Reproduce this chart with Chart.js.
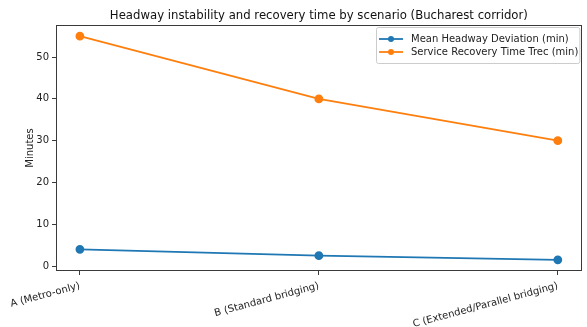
<!DOCTYPE html>
<html>
<head>
<meta charset="utf-8">
<script src="https://cdn.jsdelivr.net/npm/chart.js@4.4.1/dist/chart.umd.min.js"></script>
<style>
  html, body { margin: 0; padding: 0; background: #ffffff; }
  #wrap { width: 587px; height: 327px; }
</style>
</head>
<body>
<div id="wrap"><canvas id="c" width="587" height="327"></canvas></div>
<script>
const categories = ["A (Metro-only)", "B (Standard bridging)", "C (Extended/Parallel bridging)"];
const headwayDeviation = [4.0, 2.5, 1.5];
const recoveryTime = [55, 40, 30];
const yTicks = [0, 10, 20, 30, 40, 50];
const chartTitle = "Headway instability and recovery time by scenario (Bucharest corridor)";
const seriesNames = ["Mean Headway Deviation (min)", "Service Recovery Time Trec (min)"];

const FONT = "'DejaVu Sans', sans-serif";
const AXIS = "#3a3a3a";

const toPoints = vals => vals.map((v, i) => ({ x: i, y: v }));

// axis limits padded the same way as an autoscaled plot (5% each side)
const allVals = headwayDeviation.concat(recoveryTime);
const yLo = Math.min(...allVals), yHi = Math.max(...allVals);
const yPad = (yHi - yLo) * 0.05;
const xPad = (categories.length - 1) * 0.05;

const framePlugin = {
  id: 'frame',
  afterDraw(chart) {
    const { ctx, chartArea: a } = chart;
    ctx.save();
    // box around the plot area
    ctx.strokeStyle = AXIS;
    ctx.lineWidth = 1;
    ctx.strokeRect(Math.round(a.left) + 0.5, Math.round(a.top) + 0.5,
                   Math.round(a.right - a.left) - 1, Math.round(a.bottom - a.top) - 1);

    // title
    ctx.fillStyle = "#111";
    ctx.font = "11.7px " + FONT;
    ctx.textAlign = "center";
    ctx.textBaseline = "alphabetic";
    ctx.fillText(chartTitle, (a.left + a.right) / 2, 19);

    // legend box inside the upper right corner
    const ds = chart.data.datasets;
    ctx.font = "10px " + FONT;
    let maxW = 0;
    ds.forEach(d => { maxW = Math.max(maxW, ctx.measureText(d.label).width); });
    const boxW = maxW + 36, rowH = 13;
    const boxH = ds.length * rowH + 10;
    const bx = Math.round(a.right - 2 - boxW), by = Math.round(a.top + 2);
    ctx.fillStyle = "rgba(255,255,255,0.85)";
    ctx.strokeStyle = "#cccccc";
    ctx.lineWidth = 1;
    ctx.beginPath();
    ctx.roundRect(bx + 0.5, by + 0.5, boxW, boxH, 2);
    ctx.fill();
    ctx.stroke();
    ds.forEach((d, i) => {
      const cy = by + 12 + i * rowH;
      const lx = bx + 3;
      ctx.strokeStyle = d.borderColor;
      ctx.lineWidth = 1.8;
      ctx.beginPath();
      ctx.moveTo(lx, cy);
      ctx.lineTo(lx + 24, cy);
      ctx.stroke();
      ctx.fillStyle = d.borderColor;
      ctx.beginPath();
      ctx.arc(lx + 12, cy, 3, 0, Math.PI * 2);
      ctx.fill();
      ctx.fillStyle = "#222";
      ctx.textAlign = "left";
      ctx.textBaseline = "middle";
      ctx.fillText(d.label, lx + 32, cy + 0.5);
    });
    ctx.restore();
  }
};

new Chart(document.getElementById('c'), {
  type: 'line',
  data: {
    datasets: [
      {
        label: seriesNames[0],
        data: toPoints(headwayDeviation),
        borderColor: "#1f77b4",
        backgroundColor: "#1f77b4",
        borderWidth: 1.8,
        pointRadius: 3.5,
        pointHoverRadius: 3.5,
        tension: 0
      },
      {
        label: seriesNames[1],
        data: toPoints(recoveryTime),
        borderColor: "#ff7f0e",
        backgroundColor: "#ff7f0e",
        borderWidth: 1.8,
        pointRadius: 3.5,
        pointHoverRadius: 3.5,
        tension: 0
      }
    ]
  },
  options: {
    responsive: false,
    animation: false,
    events: [],
    layout: { padding: { top: 25, right: 2, left: 0, bottom: 0 } },
    plugins: {
      legend: { display: false },
      title: { display: false },
      tooltip: { enabled: false }
    },
    scales: {
      x: {
        type: 'linear',
        min: -xPad,
        max: categories.length - 1 + xPad,
        afterBuildTicks: axis => { axis.ticks = categories.map((_, i) => ({ value: i })); },
        afterFit: axis => { axis.height = 56; axis.paddingRight = 0; axis.paddingLeft = 0; },
        ticks: {
          callback: v => categories[v],
          minRotation: 15,
          maxRotation: 15,
          autoSkip: false,
          color: "#222",
          font: { family: FONT, size: 10 },
          padding: 5
        },
        grid: { display: true, drawOnChartArea: false, drawTicks: true, tickLength: 4, color: AXIS },
        border: { display: false }
      },
      y: {
        type: 'linear',
        min: yLo - yPad,
        max: yHi + yPad,
        afterBuildTicks: axis => { axis.ticks = yTicks.map(v => ({ value: v })); },
        afterFit: axis => { axis.width = 56; },
        ticks: {
          color: "#222",
          font: { family: FONT, size: 10 },
          padding: 3
        },
        title: {
          display: true,
          text: "Minutes",
          color: "#222",
          font: { family: FONT, size: 10 },
          padding: { top: 24, bottom: 0 }
        },
        grid: { display: true, drawOnChartArea: false, drawTicks: true, tickLength: 4, color: AXIS },
        border: { display: false }
      }
    }
  },
  plugins: [framePlugin]
});
</script>
</body>
</html>
